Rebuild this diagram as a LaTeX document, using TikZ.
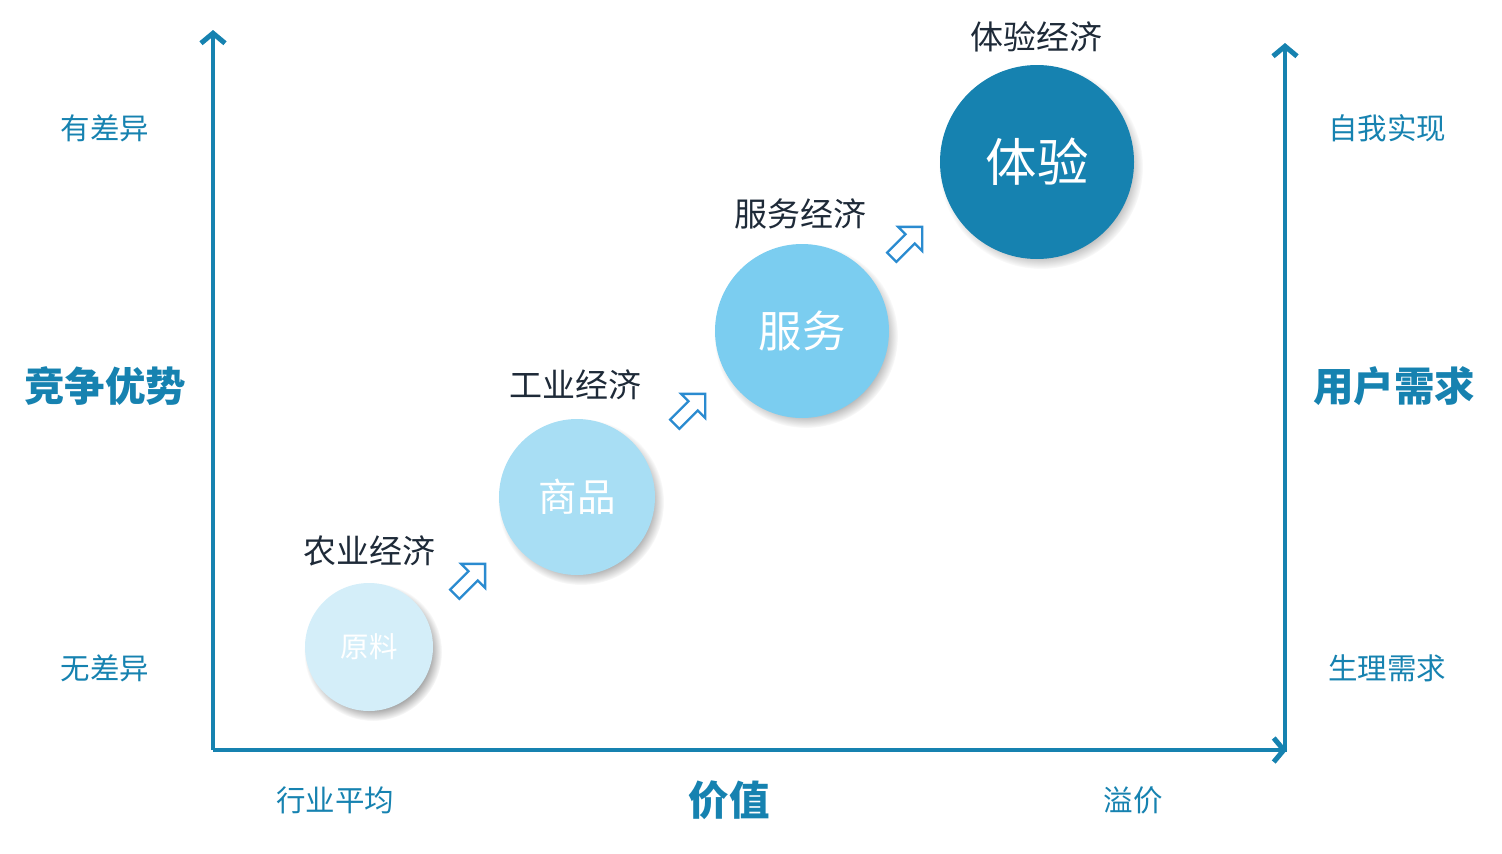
\documentclass[tikz,border=0pt]{standalone}
\usepackage{fontspec}
\newfontfamily\cjk{Noto Sans CJK SC}
\usetikzlibrary{arrows.meta,fadings}
\definecolor{axisblue}{HTML}{1682B0}
\definecolor{darktxt}{HTML}{1E2A38}
\definecolor{c1}{HTML}{D4EEF9}
\definecolor{c2}{HTML}{A8DEF4}
\definecolor{c3}{HTML}{7BCDF0}
\definecolor{c4}{HTML}{1682B0}
\definecolor{arrowblue}{HTML}{2A8BD0}
\begin{document}
\begin{tikzpicture}[x=1pt,y=-1pt,
  axis/.style={draw=axisblue,line width=4.5pt,-{Straight Barb[length=10pt,width=24pt,line width=5pt]}},
  bubble/.style={circle,inner sep=0pt,text=white,font=\cjk},
  softshadow/.style={fill=black,opacity=0.4,path fading=circle with fuzzy edge 20 percent},
  econ/.style={text=darktxt,font=\cjk\fontsize{33}{38}\selectfont,inner sep=0pt},
  side/.style={text=axisblue,font=\cjk\fontsize{29.5}{34}\selectfont,inner sep=0pt},
  sidebold/.style={text=axisblue,font=\cjk\bfseries\fontsize{40.5}{46}\selectfont,inner sep=0pt},
  hollow/.style={draw=arrowblue,line width=2.3pt,fill=white,line join=miter}
]
\useasboundingbox (0,0) rectangle (1502,854);
% axes
\coordinate (O) at (213,750);
\coordinate (Ytop) at (213,30);
\coordinate (Xend) at (1287,750);
\coordinate (Rtop) at (1285,43);
\draw[axis] (O) -- (Ytop);
\draw[axis] (O) -- (Xend);
\draw[axis] (1285,752) -- (Rtop);
% bubble shadows
\foreach \px/\py/\r in {369/647/64, 577/497/78, 802/331/87, 1037/162/97}{
  \fill[softshadow] (\px+4,\py+5) circle (\r+5);
}
% bubbles
\node[bubble,fill=c1,minimum size=128pt,font=\cjk\fontsize{28.5}{32}\selectfont] (raw) at (369,647) {原料};
\node[bubble,fill=c2,minimum size=156pt,font=\cjk\fontsize{38.5}{44}\selectfont] (goods) at (577,497) {商品};
\node[bubble,fill=c3,minimum size=174pt,font=\cjk\fontsize{43.5}{50}\selectfont] (serv) at (802,331) {服务};
\node[bubble,fill=c4,minimum size=194pt,font=\cjk\fontsize{51.5}{58}\selectfont] (exp) at (1037,162) {体验};
% economy labels
\node[econ] (l1) at (369,551) {农业经济};
\node[econ] (l2) at (575,385) {工业经济};
\node[econ] (l3) at (800,214) {服务经济};
\node[econ] (l4) at (1036,37) {体验经济};
% hollow arrows
\foreach \n/\px/\py in {a1/471/578, a2/691/408, a3/908/241}{
  \coordinate (\n) at (\px,\py);
  \draw[hollow,shift={(\n)},rotate=45]
    (-23,-6.5) -- (3,-6.5) -- (3,-17) -- (20,0) -- (3,17) -- (3,6.5) -- (-23,6.5) -- cycle;
}
% side labels
\node[side] (s1) at (105,128) {有差异};
\node[side] (s2) at (105,668) {无差异};
\node[sidebold] (s3) at (105,386) {竞争优势};
\node[side] (s4) at (1387,128) {自我实现};
\node[side] (s5) at (1387,668) {生理需求};
\node[sidebold] (s6) at (1394,386) {用户需求};
\node[side] (b1) at (335,800) {行业平均};
\node[sidebold] (b2) at (729,800) {价值};
\node[side] (b3) at (1133,800) {溢价};
\end{tikzpicture}
\end{document}
